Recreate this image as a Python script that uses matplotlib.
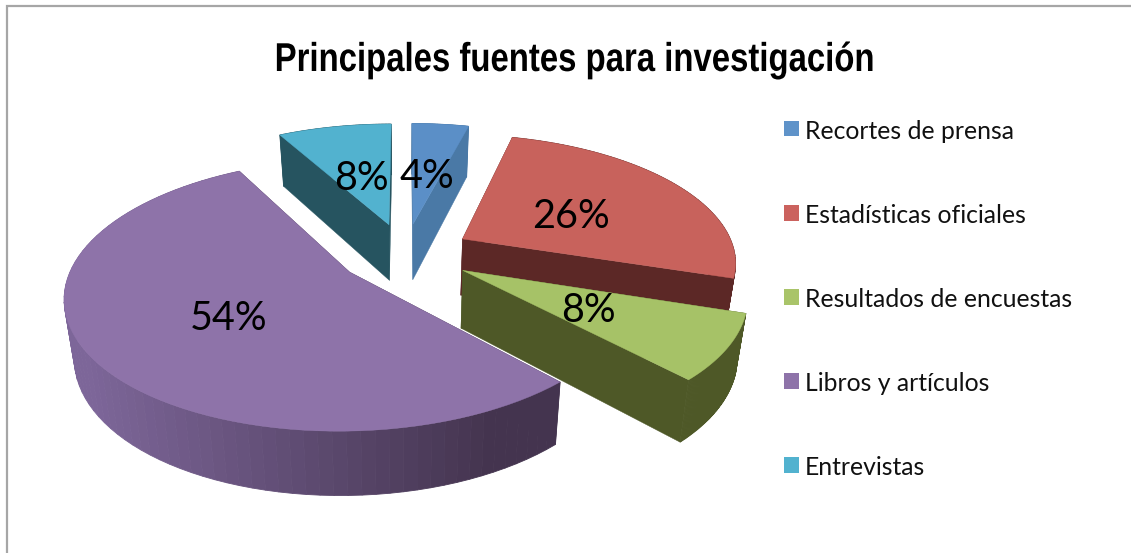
import numpy as np
from matplotlib import pyplot as plt
from matplotlib import colors as mcolors
from matplotlib import patheffects
from matplotlib.patches import Patch
from matplotlib.transforms import Affine2D

title = "Principales fuentes para investigación"
categories = ["Recortes de prensa", "Estadísticas oficiales", "Resultados de encuestas",
              "Libros y artículos", "Entrevistas"]
shares = [4, 26, 8, 54, 8]
share_labels = ["4%", "26%", "8%", "54%", "8%"]

top_colors = ["#5b8fc7", "#c8625c", "#a6c267", "#8e73a9", "#52b2cf"]
wall_colors = ["#4a79a6", "#5c2826", "#4e5827", "#44344f", "#265460"]
legend_colors = ["#5f93c9", "#cb625e", "#a9c469", "#8e73a9", "#52b2cf"]

# projection of the tilted pie, in pixels
cx, cy = 405, 253.5
radius_x, radius_y = 273, 126
persp, persp_depth = 0.165, 0.10
depth = 57
explode = 0.245

label_pos = [(427, 176), (571, 216), (588, 311), (229, 318), (361, 178)]


def project(x, y, z=0.0):
    s = 1 / (1 + persp * y)
    sx = cx + radius_x * x * s * (1 - 0.03 * z)
    sy = cy - radius_y * y * s + z * depth / (1 + persp_depth * y)
    return sx, sy


class Squeeze(patheffects.AbstractPathEffect):
    # no condensed bold font here, so narrow the title around its centre
    def __init__(self, center, scale):
        super().__init__()
        self.squeeze = Affine2D().translate(-center, 0).scale(scale, 1).translate(center, 0)

    def draw_path(self, renderer, gc, tpath, affine, rgbFace=None):
        renderer.draw_path(gc, tpath, affine + self.squeeze, rgbFace)


fig = plt.figure(figsize=(11.31, 5.53), dpi=100)
ax = fig.add_axes([0, 0, 1, 1])
ax.set_xlim(0, 1131)
ax.set_ylim(553, 0)
ax.axis("off")

# chart frame, only top and left are in the crop
ax.plot([6.5, 6.5, 1131], [553, 5.5, 5.5], color="#a6a6a6", lw=1.6, solid_joinstyle="miter")

ends = np.cumsum(shares) / np.sum(shares) * 2 * np.pi
starts = np.r_[0, ends[:-1]]
draw_order = [4, 0, 1, 3, 2]

for i in draw_order:
    mid = (starts[i] + ends[i]) / 2
    ox, oy = explode * np.sin(mid), explode * np.cos(mid)
    t = np.linspace(starts[i], ends[i], 80)
    xs, ys = ox + np.sin(t), oy + np.cos(t)

    # radial walls
    for a in (starts[i], ends[i]):
        ex, ey = ox + np.sin(a), oy + np.cos(a)
        px, py = project(np.array([ox, ex, ex, ox]), np.array([oy, ey, ey, oy]),
                         np.array([0, 0, 1, 1]))
        ax.fill(px, py, color=wall_colors[i], lw=0.3, zorder=2)

    # outer wall, the big slice gets darker towards the right
    if i == 3:
        light = np.array(mcolors.to_rgb("#7d6699"))
        dark = np.array(mcolors.to_rgb(wall_colors[3]))
    for j in range(len(t) - 1):
        qx = np.array([xs[j], xs[j + 1], xs[j + 1], xs[j]])
        qy = np.array([ys[j], ys[j + 1], ys[j + 1], ys[j]])
        px, py = project(qx, qy, np.array([0, 0, 1, 1]))
        if i == 3:
            frac = np.clip((px.mean() - 90) / 400, 0, 1)
            c = light * (1 - frac) + dark * frac
        else:
            c = wall_colors[i]
        ax.fill(px, py, color=c, lw=0.6, zorder=2)

    # top face
    px, py = project(np.r_[ox, xs], np.r_[oy, ys])
    ax.fill(px, py, color=top_colors[i], lw=0.3, zorder=3)

for (lx, ly), txt in zip(label_pos, share_labels):
    ax.text(lx, ly, txt, fontsize=28.5, family="Lato", color="black", ha="center", va="center", zorder=5)

ax.text(574, 60, title, fontsize=29, family="Liberation Sans", fontweight="bold",
        color="black", ha="center", va="center", path_effects=[Squeeze(574, 0.817)])

handles = [Patch(facecolor=c, edgecolor="none") for c in legend_colors]
leg = ax.legend(handles, categories, loc="upper left", bbox_to_anchor=(784 / 1131, 1 - 120 / 553),
                frameon=False, fontsize=17.8, labelspacing=2.47, handlelength=0.6, handleheight=0.6,
                handletextpad=0.24, borderpad=0, borderaxespad=0)
for text in leg.get_texts():
    text.set_family("Lato")
    text.set_color("#111111")
for patch in leg.get_patches():
    patch.set_y(patch.get_y() + 1.2)

fig.savefig("out.png", dpi=100)
